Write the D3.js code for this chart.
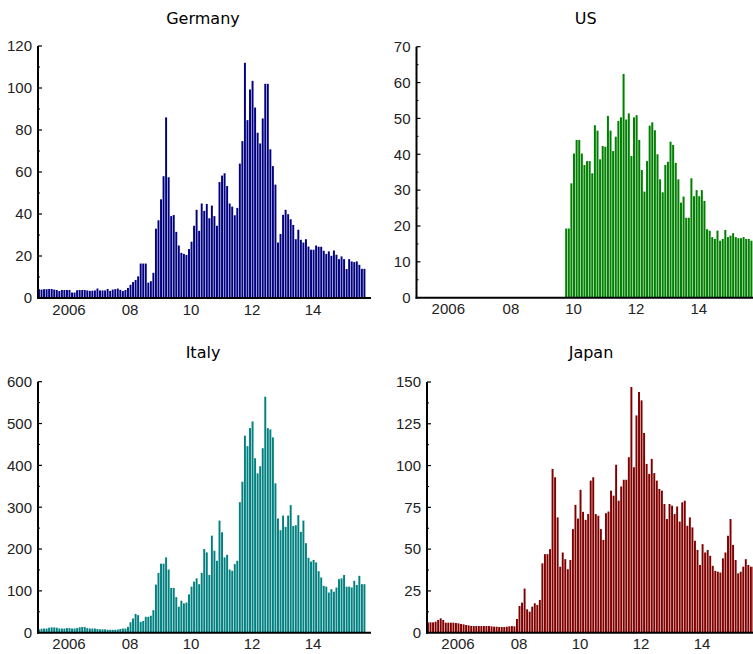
<!DOCTYPE html>
<html>
<head>
<meta charset="utf-8">
<script src="https://cdn.jsdelivr.net/npm/d3@7"></script>
<style>
  html, body { margin: 0; padding: 0; background: #fff; }
  svg { display: block; }
  .title { font-family: "DejaVu Sans", sans-serif; font-size: 16px; fill: #000; }
  .tick text { font-family: "Liberation Sans", Arial, sans-serif; font-size: 15px; fill: #222; }
</style>
</head>
<body>
<svg id="chart" width="753" height="654"></svg>
<script>
// Monthly series, January 2005 through September 2015 (129 months).
const startYear = 2005;
const monthCount = 129;

const germany = [
  4.2,4.0,4.2,4.2,4.3,4.3,4.0,3.8,3.3,3.8,3.8,3.8,
  3.8,2.6,2.6,3.7,3.8,3.8,3.8,3.6,3.4,3.5,3.6,4.5,
  3.6,3.6,3.6,4.3,3.4,4.0,4.2,4.5,3.9,3.3,3.8,4.8,
  6.3,7.6,8.6,10.3,16.4,16.4,16.4,7.3,8.0,12.0,33,37,
  47,58,86,57.5,39,39.5,31.5,25,21.5,21,20.5,23.3,
  26.8,34.4,42,32,45,41.5,44.8,38,44,39,34.4,55.2,
  58.3,59.4,53.3,45,43.5,39.4,42.9,64,74.7,112,84.7,99.3,
  103.4,90.7,78.7,73.6,85.5,102,102,70.8,62.8,54,26.4,30.5,
  39.6,42,39.9,37.5,34.8,28,32.5,27.7,26.4,28,24.5,23,
  23,25,24.4,24.4,22.5,21,22.2,20.1,22.6,20.6,18.5,19.8,
  18.5,13.8,18.5,17.4,17.1,17.4,15.8,13.9,13.9
];

const usFirstMonth = 57; // the US series starts in October 2009
const usValues = [
  19.3,19.3,31.9,
  40.2,44,44,40.2,37,38.1,38.1,34.7,48.1,46.6,38.6,42.3,
  42.1,50.7,46.6,40.9,44.9,49.3,50.3,62.4,49.7,51.4,39.5,50.3,
  50.9,44,35.6,29.6,38.1,48,48.9,46.7,40,33,29.4,37,
  37.9,43.5,42.6,37.6,33,26.5,28.2,22.3,22.3,33.3,28.3,30,
  28.3,30,27,19.1,18.7,16.9,16.4,18.7,15.9,16.4,18.9,16.9,
  17.3,18,16.9,16.6,16.6,16.9,16.4,16.4,15.9
];
const us = Array(usFirstMonth).fill(null).concat(usValues);

const italy = [
  8,9.5,10,10,12,12.7,12.7,12,10,10,10,11,
  11,10,10,11,13,13.5,13.5,11,10,10,10,9,
  8,8,8,7,7,7,7,7.5,9,10,10,14,
  25,34,45,42,26,28,38,38,40.6,54,115,143,
  165,165,180,151,107,107,85,62,76.5,70,72,91.7,
  110,122,130,116,143,200,192,138,232,196,172,268,
  240,180,186,151,148,164,172,312,361,471,446,489,
  505,417,381,398,441,564,489,486,467,357,273,245,
  280,253,280,305,255,257,281,241,268,214,179,170,
  174,168,147,132,112,110,96,104,98,108,128,130,
  138,110,110,108,124,114,136,116,116
];

const japan = [
  6.2,6.2,6.2,6.6,7.6,8.6,7.6,6,6,6,6,5.8,
  5.6,5.2,5,4.6,4.4,4,4,4,4,4,4,4,
  4,3.8,3.6,3.6,3.4,3.4,3.4,3.6,3.8,4,3.8,8.2,
  16,18,26.4,14,12.6,15.6,17.6,16.6,19.6,41.5,47,47,
  50,98,93,69,39.5,48,44,38,43.5,62,76.5,68.3,
  85.5,72.3,67.5,71,91,93,71,70,62,55.5,71.5,72.5,
  85,82,100.5,79,87.5,91.5,91.5,105,147,99,130,144,
  139,119.5,101,95,104,95.5,91,86,85,77,68,77,
  76,71,75.5,66.5,78,79,64,69,63,55,49.5,40.5,
  53,48,49.5,46,40,37,36.5,36,44.5,48,58,68,
  52.5,43.5,35.5,36.5,39.5,44,40.5,39.5,39.5
];

const yearTicks = [2006, 2008, 2010, 2012, 2014];
const yearTickLabels = ["2006", "08", "10", "12", "14"];

const panels = [
  { name: "Germany", values: germany, color: "#000080", yMax: 120, yStep: 20,
    x0: 38, x1: 366, axisEnd: 371, yTop: 46, yBase: 298, titleY: 24 },
  { name: "US", values: us, color: "#008000", yMax: 70, yStep: 10,
    x0: 416.5, x1: 753, axisEnd: 753, yTop: 46.7, yBase: 297.7, titleY: 24 },
  { name: "Italy", values: italy, color: "#008080", yMax: 600, yStep: 100,
    x0: 38, x1: 366, axisEnd: 371, yTop: 381.7, yBase: 632.7, titleY: 358 },
  { name: "Japan", values: japan, color: "#800000", yMax: 150, yStep: 25,
    x0: 427, x1: 755, axisEnd: 753, yTop: 382, yBase: 632.7, titleY: 358 }
];

const svg = d3.select("#chart");

panels.forEach(p => {
  const g = svg.append("g");
  const x = d3.scaleLinear()
    .domain([startYear, startYear + monthCount / 12])
    .range([p.x0, p.x1]);
  const y = d3.scaleLinear().domain([0, p.yMax]).range([p.yBase, p.yTop]);

  const monthW = x(startYear + 1 / 12) - x(startYear);
  const data = p.values.map((v, i) => ({ t: startYear + i / 12, v }))
    .filter(d => d.v !== null);

  g.append("g").selectAll("rect")
    .data(data)
    .join("rect")
      .attr("x", d => x(d.t))
      .attr("width", monthW - 0.6)
      .attr("y", d => y(d.v))
      .attr("height", d => y(0) - y(d.v))
      .attr("fill", p.color);

  // y axis: labelled major ticks plus unlabelled minor ticks, pointing inward
  const majors = d3.range(0, p.yMax + p.yStep / 2, p.yStep);
  const minors = d3.range(p.yStep / 2, p.yMax, p.yStep);
  const yAxis = d3.axisLeft(y).tickValues(majors).tickSize(0).tickPadding(6)
    .tickFormat(d3.format("d"));
  const ya = g.append("g").attr("transform", `translate(${p.x0},0)`).call(yAxis);
  ya.select(".domain").remove();
  g.append("g").selectAll("line.major")
    .data(majors.filter(v => v > 0))
    .join("line")
      .attr("x1", p.x0).attr("x2", p.x0 + 4)
      .attr("y1", d => y(d)).attr("y2", d => y(d))
      .attr("stroke", "#000").attr("stroke-width", 1.2);
  g.append("g").selectAll("line.minor")
    .data(minors)
    .join("line")
      .attr("x1", p.x0).attr("x2", p.x0 + 2)
      .attr("y1", d => y(d)).attr("y2", d => y(d))
      .attr("stroke", "#000").attr("stroke-width", 1);
  g.append("line")
    .attr("x1", p.x0).attr("x2", p.x0)
    .attr("y1", y(p.yMax)).attr("y2", y(0) + 1)
    .attr("stroke", "#000").attr("stroke-width", 2);

  // x axis: baseline and year labels
  const xAxis = d3.axisBottom(x).tickValues(yearTicks).tickSize(0).tickPadding(6)
    .tickFormat((d, i) => yearTickLabels[i]);
  const xa = g.append("g").attr("transform", `translate(0,${p.yBase})`).call(xAxis);
  xa.select(".domain").remove();
  g.append("line")
    .attr("x1", p.x0 - 1).attr("x2", p.axisEnd)
    .attr("y1", y(0)).attr("y2", y(0))
    .attr("stroke", "#000").attr("stroke-width", 2);

  g.append("text")
    .attr("class", "title")
    .attr("x", (p.x0 + Math.min(p.x1, 753)) / 2 + 1)
    .attr("y", p.titleY)
    .attr("text-anchor", "middle")
    .text(p.name);
});
</script>
</body>
</html>
